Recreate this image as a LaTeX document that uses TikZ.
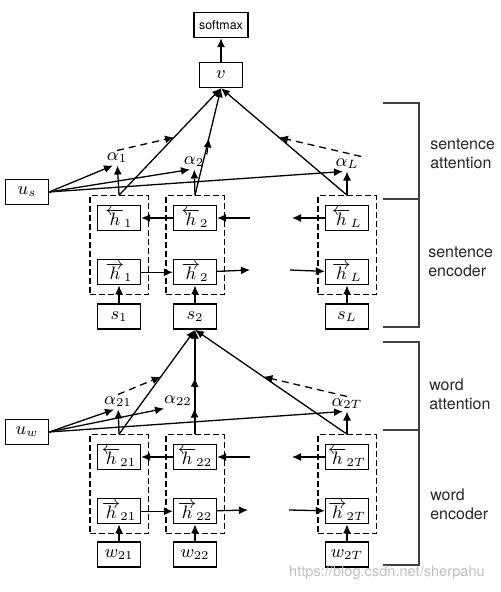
\documentclass[tikz,border=0pt]{standalone}
\usepackage{fontspec}
\setsansfont{TeX Gyre Heros}
\usetikzlibrary{arrows.meta,positioning,fit}
\tikzset{%
  arrow/.style={-{Latex[length=4.5pt,width=4pt]}},
  cellbox/.style={draw,minimum width=21.5pt,minimum height=12.5pt,inner sep=0pt,font=\small},
  grubox/.style={draw,dash pattern=on 3pt off 1.5pt,inner xsep=3.5pt,inner ysep=4.5pt},
  attnline/.style={arrow,dash pattern=on 3.5pt off 2.5pt},
  alphalbl/.style={inner sep=1pt,font=\small},
  layerlbl/.style={anchor=west,align=left,font=\sffamily\fontsize{8}{9.5}\selectfont,text=black!85},
  sidebar/.style={draw=black!75},
}

\begin{document}
\begin{tikzpicture}[x=0.5pt,y=0.5pt,line width=0.65pt]
  \useasboundingbox (0,0) rectangle (500,592);

  % sentence level
  \node[cellbox,minimum width=27pt,font=\sffamily\fontsize{6.2}{7}\selectfont] (softmax) at (221,567) {softmax};
  \node[cellbox] (v) at (221,517) {$v$};
  \node[cellbox] (us) at (27,400) {$u_s$};

  \node[cellbox] (hb1) at (119,374) {$\overleftarrow{h}_1$};
  \node[cellbox] (hb2) at (195,374) {$\overleftarrow{h}_2$};
  \node[cellbox] (hbL) at (347,374) {$\overleftarrow{h}_L$};
  \node[cellbox,below=14pt of hb1] (hf1) {$\overrightarrow{h}_1$};
  \node[cellbox,below=14pt of hb2] (hf2) {$\overrightarrow{h}_2$};
  \node[cellbox,below=14pt of hbL] (hfL) {$\overrightarrow{h}_L$};
  \node[cellbox,below=9pt of hf1] (s1) {$s_1$};
  \node[cellbox,below=9pt of hf2] (s2) {$s_2$};
  \node[cellbox,below=9pt of hfL] (sL) {$s_L$};
  \node[grubox,fit=(hb1)(hf1)] (g1) {};
  \node[grubox,fit=(hb2)(hf2)] (g2) {};
  \node[grubox,fit=(hbL)(hfL)] (gL) {};

  \node[alphalbl] (a1) at (117,434) {$\alpha_1$};
  \node[alphalbl] (a2) at (194,430) {$\alpha_2$};
  \node[alphalbl] (aL) at (347,428) {$\alpha_L$};

  \coordinate (hbin) at (250,374);
  \coordinate (hbout) at (292,374);
  \coordinate (hfout) at (250,322);
  \coordinate (hfin) at (290,322);

  \draw[arrow] (v) -- (softmax);
  \draw[arrow] (hb2) -- (hb1);
  \draw[arrow] (hbin) -- (hb2);
  \draw[arrow] (hbL) -- (hbout);
  \draw[arrow] (hf1) -- (hf2);
  \draw[arrow] (hf2) -- (hfout);
  \draw[arrow] (hfin) -- (hfL);
  \draw[arrow] (s1) -- (hf1);
  \draw[arrow] (s2) -- (hf2);
  \draw[arrow] (sL) -- (hfL);

  \draw[arrow] (g1.north) -- coordinate[pos=0.54] (c1) (v.south);
  \draw[arrow] (g2.north) -- coordinate[pos=0.53] (c2) (v.south);
  \draw[arrow] (gL.north) -- coordinate[pos=0.54] (cL) (v.south);
  \draw[arrow] (g1.north) -- (a1);
  \draw[arrow] (g2.north) -- (a2);
  \draw[arrow] (gL.north) -- (aL);
  \draw[attnline] (a1.north) -- (c1);
  \draw[attnline] (a2.north east) -- (c2);
  \draw[attnline] (aL.north east) -- (cL);
  \draw[arrow] (us.east) -- ([xshift=-2pt]a1.south);
  \draw[arrow] (us.east) -- ([xshift=-2pt]a2.south);
  \draw[arrow] (us.east) -- ([xshift=-2pt]aL.south);

  % word level
  \node[cellbox] (uw) at (27,160) {$u_w$};

  \node[cellbox] (hb21) at (119,135) {$\overleftarrow{h}_{21}$};
  \node[cellbox] (hb22) at (195,135) {$\overleftarrow{h}_{22}$};
  \node[cellbox] (hb2T) at (347,135) {$\overleftarrow{h}_{2T}$};
  \node[cellbox,below=14pt of hb21] (hf21) {$\overrightarrow{h}_{21}$};
  \node[cellbox,below=14pt of hb22] (hf22) {$\overrightarrow{h}_{22}$};
  \node[cellbox,below=14pt of hb2T] (hf2T) {$\overrightarrow{h}_{2T}$};
  \node[cellbox,below=8.5pt of hf21] (w21) {$w_{21}$};
  \node[cellbox,below=8.5pt of hf22] (w22) {$w_{22}$};
  \node[cellbox,below=8.5pt of hf2T] (w2T) {$w_{2T}$};
  \node[grubox,fit=(hb21)(hf21)] (g21) {};
  \node[grubox,fit=(hb22)(hf22)] (g22) {};
  \node[grubox,fit=(hb2T)(hf2T)] (g2T) {};

  \node[alphalbl] (a21) at (118,190) {$\alpha_{21}$};
  \node[alphalbl] (a22) at (178,191) {$\alpha_{22}$};
  \node[alphalbl] (a2T) at (347,188) {$\alpha_{2T}$};

  \coordinate (hbin2) at (250,135);
  \coordinate (hbout2) at (292,135);
  \coordinate (hfout2) at (248,82);
  \coordinate (hfin2) at (289,82);

  \draw[arrow] (hb22) -- (hb21);
  \draw[arrow] (hbin2) -- (hb22);
  \draw[arrow] (hb2T) -- (hbout2);
  \draw[arrow] (hf21) -- (hf22);
  \draw[arrow] (hf22) -- (hfout2);
  \draw[arrow] (hfin2) -- (hf2T);
  \draw[arrow] (w21) -- (hf21);
  \draw[arrow] (w22) -- (hf22);
  \draw[arrow] (w2T) -- (hf2T);

  \draw[arrow] (g21.north) -- coordinate[pos=0.55] (c21) (s2.south);
  \draw[arrow] (g22.north) -- coordinate[pos=0.54] (c22) (s2.south);
  \draw[arrow] (g2T.north) -- coordinate[pos=0.55] (c2T) (s2.south);
  \draw[arrow] (g21.north) -- (a21);
  \draw[arrow] (g22.north) -- (a22.south east);
  \draw[arrow] (g2T.north) -- (a2T);
  \draw[attnline] (a21.north) -- (c21);
  \draw[attnline] (a22.north east) -- (c22);
  \draw[attnline] (a2T.north) -- (c2T);
  \draw[arrow] (uw.east) -- ([xshift=-2pt]a21.south);
  \draw[arrow] (uw.east) -- ([xshift=-7pt]a22.south);
  \draw[arrow] (uw.east) -- ([xshift=-2pt]a2T.south);

  % brackets on the right
  \draw[sidebar] (383,489) -- (419,489) -- (419,265) -- (383,265);
  \draw[sidebar] (383,393) -- (419,393);
  \draw[sidebar] (383,250) -- (419,250) -- (419,27) -- (383,27);
  \draw[sidebar] (383,162) -- (419,162);
  \node[layerlbl] (sentatt) at (423,438) {sentence\\attention};
  \node[layerlbl] (sentenc) at (421,330) {sentence\\encoder};
  \node[layerlbl] (wordatt) at (422,198) {word\\attention};
  \node[layerlbl] (wordenc) at (423,88) {word\\encoder};

  \node[text=black!25,font=\sffamily\fontsize{7.3}{8}\selectfont] (mark) at (387,19) {https://blog.csdn.net/sherpahu};
\end{tikzpicture}
\end{document}
